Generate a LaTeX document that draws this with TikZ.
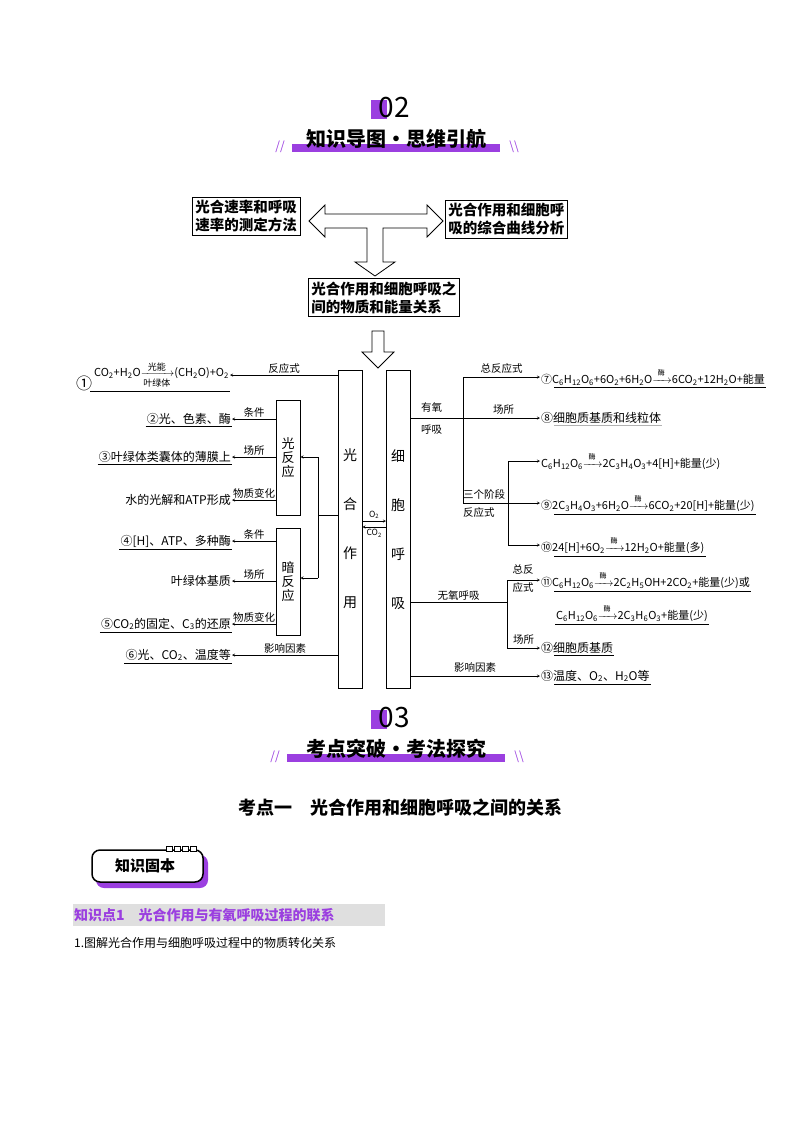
\documentclass[tikz,border=0pt]{standalone}
\usepackage{amsmath}
\usepackage{fontspec}
\setmainfont{Noto Sans CJK SC}
\usetikzlibrary{positioning}
\definecolor{purp}{HTML}{9B3FE0}
\newcommand{\ssb}[1]{\textsubscript{#1}}
\newcommand{\enz}[1]{$\xrightarrow{\hspace{3pt}\text{\raisebox{2pt}{\scriptsize #1}}\hspace{3pt}}$}

\begin{document}
\begin{tikzpicture}
[
x=1pt, y=-1pt,
every node/.style={inner sep=1pt},
topbox/.style={draw, thick, font=\fontsize{14.5}{18}\selectfont\bfseries, align=left, inner sep=3pt},
tallbox/.style={draw, minimum width=24pt, align=center, font=\fontsize{14}{15}\selectfont},
lbl/.style={font=\fontsize{10.5}{12}\selectfont},
entry/.style={font=\fontsize{12}{14}\selectfont},
eqn/.style={font=\fontsize{11}{14}\selectfont},
arr/.style={->, >=stealth},
ul/.style={semithick},
hollow/.style={draw, fill=white, line width=0.8pt}
]
\useasboundingbox (0,0) rectangle (800,1132);

% header 02
\fill[purp] (371,100) rectangle (387,119);
\node[font=\fontsize{28}{30}\selectfont] (n02) at (394,108) {02};
\fill[purp] (292,144) rectangle (500,152);
\node[font=\fontsize{20}{22}\selectfont\bfseries] (h02) at (396,139) {知识导图·思维引航};
\node[purp, font=\fontsize{12}{12}\selectfont\itshape] at (280,147) {//};
\node[purp, font=\fontsize{12}{12}\selectfont\itshape] at (514,147) {\textbackslash\textbackslash};

% top boxes
\node[topbox, anchor=north west] (ratebox) at (192,197) {光合速率和呼吸\\速率的测定方法};
\node[topbox, anchor=north west] (curvebox) at (445,200) {光合作用和细胞呼\\吸的综合曲线分析};
\node[topbox, anchor=north west] (relbox) at (308,278) {光合作用和细胞呼吸之\\间的物质和能量关系};
\draw[hollow] (309,221) -- (325,205) -- (325,214) -- (427,214) -- (427,205) -- (443,221)
  -- (427,237) -- (427,228) -- (383,228) -- (383,262) -- (395,262) -- (375,276)
  -- (355,262) -- (367,262) -- (367,228) -- (325,228) -- (325,237) -- cycle;
\draw[hollow] (372,331) -- (384,331) -- (384,352) -- (394,352) -- (378,368) -- (362,352) -- (372,352) -- cycle;

% tall boxes
\node[tallbox, minimum height=318pt, anchor=north west] (photo) at (338,370) {光\\[34pt]合\\[34pt]作\\[34pt]用};
\node[tallbox, minimum height=318pt, anchor=north west] (resp) at (386,370) {细\\[34pt]胞\\[34pt]呼\\[34pt]吸};
\node[tallbox, minimum height=115pt, anchor=north west, font=\fontsize{13}{14}\selectfont] (light) at (276,400) {光\\反\\应};
\node[tallbox, minimum height=107pt, anchor=north west, font=\fontsize{13}{14}\selectfont] (dark) at (276,528) {暗\\反\\应};

% O2 / CO2
\coordinate (oc) at (374,521);
\draw[arr] (photo.east |- oc) -- node[above=1pt, font=\fontsize{8.5}{9}\selectfont] {O\ssb{2}} (resp.west |- oc);
\draw[arr] ([yshift=-6pt]resp.west |- oc) -- node[below=1pt, font=\fontsize{8.5}{9}\selectfont] {CO\ssb{2}} ([yshift=-6pt]photo.east |- oc);

% left entries
\node[eqn, anchor=east] (e1) at (230,375) {CO\ssb{2}+H\ssb{2}O$\xrightarrow[\text{\small 叶绿体}]{\text{\small 光能}}$(CH\ssb{2}O)+O\ssb{2}};
\node[font=\fontsize{16}{16}\selectfont] (c1) at (84,383) {①};
\node[entry, anchor=east] (e2) at (232,419) {②光、色素、酶};
\node[entry, anchor=east] (e3) at (232,457) {③叶绿体类囊体的薄膜上};
\node[entry, anchor=east] (e3b) at (232,500) {水的光解和ATP形成};
\node[entry, anchor=east] (e4) at (232,541) {④[H]、ATP、多种酶};
\node[entry, anchor=east] (e4b) at (232,581) {叶绿体基质};
\node[entry, anchor=east] (e5) at (232,624) {⑤CO\ssb{2}的固定、C\ssb{3}的还原};
\node[entry, anchor=east] (e6) at (232,655) {⑥光、CO\ssb{2}、温度等};
\draw[ul] (90,391) -- (e1.east |- 0,391);
\foreach \e in {e2,e3,e4,e5,e6}
  \draw[ul] ([yshift=-1pt]\e.south west) -- ([yshift=-1pt]\e.south east);

\draw[arr] (photo.west |- e1.east) -- node[lbl, above] {反应式} (e1.east);
\draw[arr] (photo.west |- e6.east) -- node[lbl, above] {影响因素} (e6.east);
\draw[arr] (light.west |- e2.east) -- node[lbl, above] {条件} (e2.east);
\draw[arr] (light.west |- e3.east) -- node[lbl, above] {场所} (e3.east);
\draw[arr] (light.west |- e3b.east) -- node[lbl, above] {物质变化} (e3b.east);
\draw[arr] (dark.west |- e4.east) -- node[lbl, above] {条件} (e4.east);
\draw[arr] (dark.west |- e4b.east) -- node[lbl, above] {场所} (e4b.east);
\draw[arr] (dark.west |- e5.east) -- node[lbl, above] {物质变化} (e5.east);

\coordinate (lj) at (318,515);
\draw (photo.west |- lj) -- (lj);
\draw (lj |- 0,457) -- (lj |- 0,578);
\draw[arr] (lj |- 0,457) -- (light.east |- 0,457);
\draw[arr] (lj |- 0,578) -- (dark.east |- 0,578);

% right entries
\node[eqn, anchor=west] (r7) at (540,377) {⑦C\ssb{6}H\ssb{12}O\ssb{6}+6O\ssb{2}+6H\ssb{2}O\enz{酶}6CO\ssb{2}+12H\ssb{2}O+能量};
\node[entry, anchor=west] (r8) at (540,418) {⑧细胞质基质和线粒体};
\node[eqn, anchor=west] (r9a) at (540,461) {C\ssb{6}H\ssb{12}O\ssb{6}\enz{酶}2C\ssb{3}H\ssb{4}O\ssb{3}+4[H]+能量(少)};
\node[eqn, anchor=west] (r9) at (540,503) {⑨2C\ssb{3}H\ssb{4}O\ssb{3}+6H\ssb{2}O\enz{酶}6CO\ssb{2}+20[H]+能量(少)};
\node[eqn, anchor=west] (r10) at (540,545) {⑩24[H]+6O\ssb{2}\enz{酶}12H\ssb{2}O+能量(多)};
\node[eqn, anchor=west] (r11) at (540,580) {⑪C\ssb{6}H\ssb{12}O\ssb{6}\enz{酶}2C\ssb{2}H\ssb{5}OH+2CO\ssb{2}+能量(少)或};
\node[eqn, anchor=west] (r11b) at (555,613) {C\ssb{6}H\ssb{12}O\ssb{6}\enz{酶}2C\ssb{3}H\ssb{6}O\ssb{3}+能量(少)};
\node[entry, anchor=west] (r12) at (540,648) {⑫细胞质基质};
\node[entry, anchor=west] (r13) at (540,676) {⑬温度、O\ssb{2}、H\ssb{2}O等};
\foreach \e in {r7,r9,r11,r10,r12,r13}
  \draw[ul] ([xshift=14pt,yshift=-1pt]\e.south west) -- ([yshift=-1pt]\e.south east);
\draw[ul] ([yshift=-1pt]r11b.south west) -- ([yshift=-1pt]r11b.south east);
\draw[ul, gray!60] ([xshift=14pt,yshift=-1pt]r8.south west) -- ([yshift=-1pt]r8.south east);

% aerobic
\coordinate (aj) at (463,418);
\draw[arr] (resp.east |- aj) -- node[lbl, pos=0.72, above=2pt] {场所} (r8.west);
\node[lbl, anchor=west] (aer1) at (420,408) {有氧};
\node[lbl, anchor=west] (aer2) at (420,430) {呼吸};
\draw (aj |- r7.west) -- (aj |- r9.west);
\draw[arr] (aj |- r7.west) -- node[lbl, above=2pt] {总反应式} (r7.west);
\draw[arr] (aj |- r9.west) -- (r9.west);
\node[lbl, anchor=south west] (stg) at (462,501) {三个阶段};
\node[lbl, anchor=north west] (stg2) at (462,506) {反应式};
\coordinate (sj) at (508,503);
\draw (sj |- r9a.west) -- (sj |- r10.west);
\draw[arr] (sj |- r9a.west) -- (r9a.west);
\draw[arr] (sj |- r10.west) -- (r10.west);

% anaerobic
\coordinate (nj) at (507,602);
\draw (resp.east |- nj) -- node[lbl, above] {无氧呼吸} (nj);
\draw (nj |- r11.west) -- (nj |- r12.west);
\draw[arr] (nj |- r11.west) -- (r11.west);
\node[lbl, align=center] (tot) at (523,579) {总反\\[6pt]应式};
\draw[arr] (nj |- r12.west) -- node[lbl, above=2pt] {场所} (r12.west);
\draw[arr] (resp.east |- r13.west) -- node[lbl, above=2pt] {影响因素} (r13.west);

% header 03
\fill[purp] (371,710) rectangle (387,729);
\node[font=\fontsize{28}{30}\selectfont] (n03) at (394,718) {03};
\fill[purp] (287,754) rectangle (505,762);
\node[font=\fontsize{20}{22}\selectfont\bfseries] (h03) at (396,749) {考点突破·考法探究};
\node[purp, font=\fontsize{12}{12}\selectfont\itshape] at (275,757) {//};
\node[purp, font=\fontsize{12}{12}\selectfont\itshape] at (519,757) {\textbackslash\textbackslash};

\node[font=\fontsize{18}{20}\selectfont\bfseries] (kd1) at (400,808) {考点一\quad 光合作用和细胞呼吸之间的关系};

% badge
\fill[purp, rounded corners=8pt] (96,855) rectangle (208,888);
\draw[line width=1.5pt, fill=white, rounded corners=8pt] (92,850) rectangle (203,882);
\foreach \i in {0,1,2,3}
  \draw[line width=1pt, fill=white] (166+\i*8,846) rectangle (172+\i*8,851);
\node[font=\fontsize{15}{16}\selectfont\bfseries] (badge) at (145,866) {知识固本};

\fill[gray!25] (73,904) rectangle (385,926);
\node[purp, anchor=west, font=\fontsize{14}{15}\selectfont\bfseries] (zsd) at (73,915) {知识点1\quad 光合作用与有氧呼吸过程的联系};
\node[anchor=west, font=\fontsize{12}{14}\selectfont] (tj) at (73,943) {1.图解光合作用与细胞呼吸过程中的物质转化关系};
\end{tikzpicture}
\end{document}
